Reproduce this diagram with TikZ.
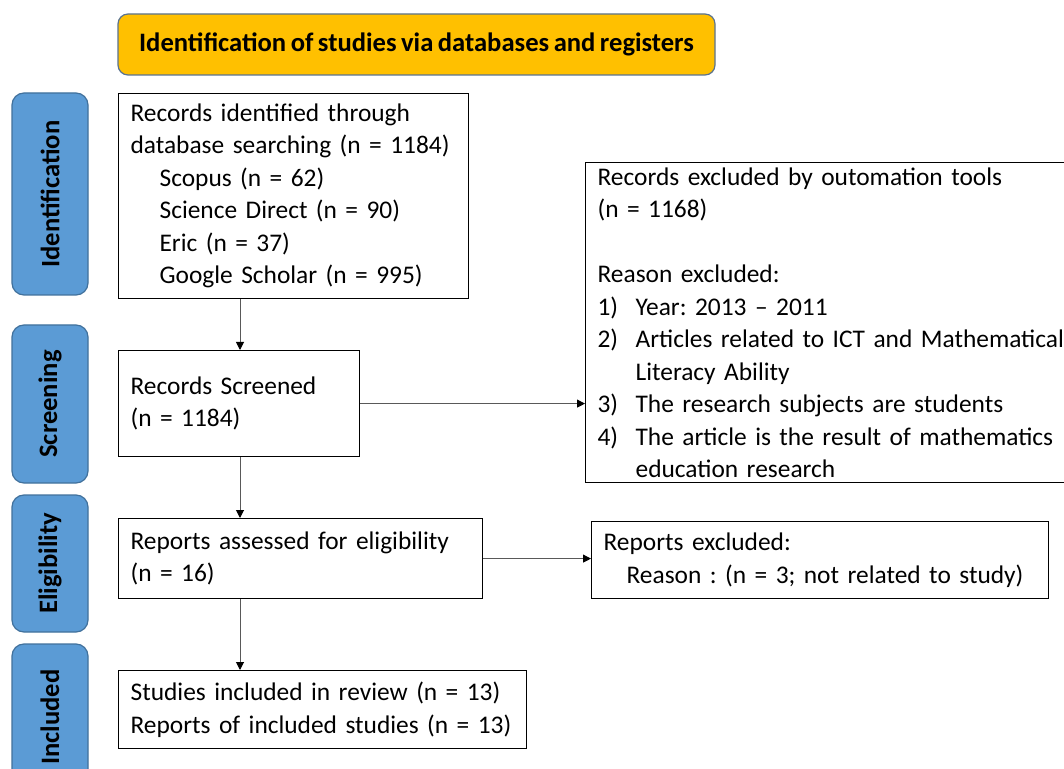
\documentclass[tikz,border=0pt]{standalone}
\usepackage{fontspec}
\setmainfont{Carlito}[WordSpace=0.75]
\usetikzlibrary{arrows.meta,positioning}
\frenchspacing

\definecolor{titleFill}{HTML}{FFC000}
\definecolor{titleLine}{HTML}{5A7390}
\definecolor{sideFill}{HTML}{5B9BD5}
\definecolor{sideLine}{HTML}{41719C}

\def \subIndent {14.5pt}
\def \numWidth {19pt}
\def \bodyFont {\fontsize{12.7}{16.25}\selectfont}

\tikzset{
  flowbox/.style={draw, line width=0.6pt, anchor=north west, align=left,
    inner xsep=6pt, inner ysep=0pt, font=\bodyFont},
  sidebox/.style={draw=sideLine, fill=sideFill, line width=0.6pt, rounded corners=6pt,
    rotate=90, minimum height=38pt, inner sep=0pt, font=\bfseries\fontsize{13.3}{16}\selectfont},
  titlebox/.style={draw=titleLine, fill=titleFill, line width=0.6pt, rounded corners=5pt,
    minimum width=298.5pt, minimum height=30.5pt, inner sep=0pt, font=\bfseries\fontsize{13.3}{16}\selectfont},
  flowarrow/.style={draw=black!65, line width=0.5pt, -{Triangle[length=4pt,width=4pt,color=black]}}
}

\begin{document}
\begin{tikzpicture}[x=0.5pt, y=-0.5pt]
      \clip (0,0) rectangle (1064,769);
      \fill[white] (0,0) rectangle (1064,769);

      \node[titlebox] (title) at (416.5, 44.5) {Identification of studies via databases and registers};

      \node[sidebox, minimum width=101pt] (identification) at (50, 194) {Identification};
      \node[sidebox, minimum width=79pt] (screening) at (50, 404) {Screening};
      \node[sidebox, minimum width=68.5pt] (eligibility) at (50, 563.5) {Eligibility};
      \node[sidebox, minimum width=73pt] (included) at (50, 717) {Included};

      \node[flowbox, text width=163pt, minimum height=102.5pt] (recordsFound) at (118, 93)
         {Records identified through\\
          \mbox{database searching (n = 1184)}\\
          \hspace*{\subIndent}Scopus (n = 62)\\
          \hspace*{\subIndent}Science Direct (n = 90)\\
          \hspace*{\subIndent}Eric (n = 37)\\
          \hspace*{\subIndent}Google Scholar (n = 995)};
      \node[flowbox, text width=108.5pt, minimum height=53pt] (recordsScreened) at (118, 350)
         {Records Screened\\ (n = 1184)};
      \node[flowbox, text width=170pt, minimum height=40pt] (reportsAssessed) at (118, 518)
         {Reports assessed for eligibility\\ (n = 16)};
      \node[flowbox, text width=192pt, minimum height=39pt] (studiesIncluded) at (118, 670)
         {\mbox{Studies included in review (n = 13)}\\ \mbox{Reports of included studies (n = 13)}};

      \node[flowbox, text width=240.5pt, minimum height=160pt] (recordsExcluded) at (585, 162)
         {Records excluded by outomation tools\\
          (n = 1168)\\[16.25pt]
          Reason excluded:\\
          \makebox[\numWidth][l]{1)}Year: 2013 -- 2011\\
          \makebox[\numWidth][l]{2)}\mbox{Articles related to ICT and Mathematical}\\
          \hspace*{\numWidth}Literacy Ability\\
          \makebox[\numWidth][l]{3)}The research subjects are students\\
          \makebox[\numWidth][l]{4)}\mbox{The article is the result of mathematics}\\
          \hspace*{\numWidth}education research};
      \node[flowbox, text width=216.5pt, minimum height=38.5pt] (reportsExcluded) at (591, 521)
         {Reports excluded:\\
          \hspace*{11.5pt}\mbox{Reason : (n = 3; not related to study)}};

      \draw[flowarrow] ([xshift=61pt]recordsFound.south west) -- ([xshift=61pt]recordsScreened.north west);
      \draw[flowarrow] ([xshift=61pt]recordsScreened.south west) -- ([xshift=61pt]reportsAssessed.north west);
      \draw[flowarrow] ([xshift=61pt]reportsAssessed.south west) -- ([xshift=61pt]studiesIncluded.north west);
      \draw[flowarrow] (recordsScreened.east) -- (recordsScreened.east -| recordsExcluded.west);
      \draw[flowarrow] (reportsAssessed.east) -- (reportsAssessed.east -| reportsExcluded.west);
   \end{tikzpicture}
\end{document}
